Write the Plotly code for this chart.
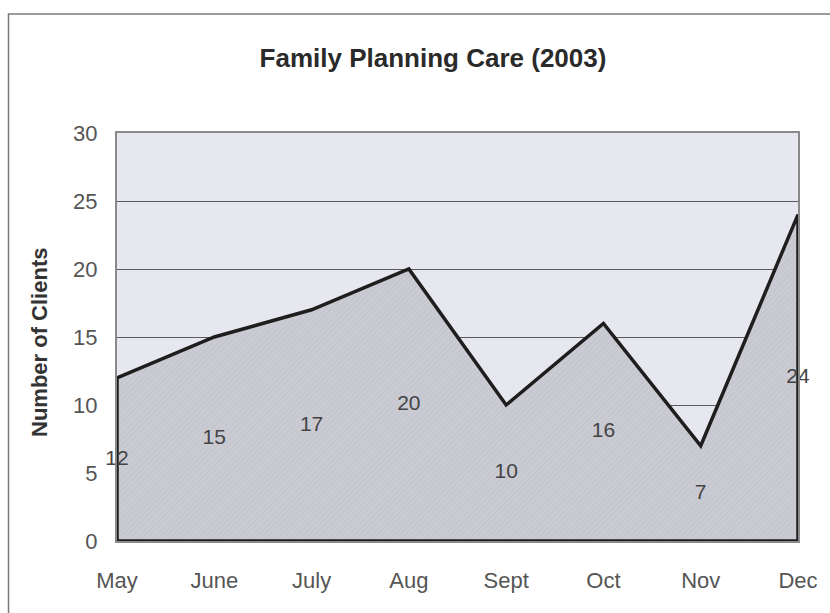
import plotly.graph_objects as go

months = ["May", "June", "July", "Aug", "Sept", "Oct", "Nov", "Dec"]
clients = [12, 15, 17, 20, 10, 16, 7, 24]
y_ticks = [0, 5, 10, 15, 20, 25, 30]

W, H = 830, 613
L, R, T, B = 117, 32, 133, 72
plot_w = W - L - R
plot_h = H - T - B

# closed outline of the filled area: data line, down to the baseline and back
poly_x = months + [months[-1], months[0], months[0]]
poly_y = clients + [0, 0, clients[0]]

fig = go.Figure()
fig.add_trace(go.Scatter(
    x=poly_x, y=poly_y, mode="lines", fill="toself",
    fillcolor="#c9c9d3",
    fillpattern=dict(shape="/", size=4, solidity=0.25,
                     fgcolor="#b9b9c3", bgcolor="#cbcbd4"),
    line=dict(color="#1e1e1e", width=3.5),
    hoverinfo="skip", showlegend=False,
))

# value labels sit halfway up each column of the area
fig.add_trace(go.Scatter(
    x=months, y=[v / 2 for v in clients], mode="text",
    text=[str(v) for v in clients],
    textfont=dict(family="Liberation Sans, Arial", size=21, color="#444444"),
    cliponaxis=False,
    hoverinfo="skip", showlegend=False,
))

font_family = "Liberation Sans, Arial, sans-serif"

fig.update_layout(
    width=W, height=H,
    margin=dict(l=L, r=R, t=T, b=B),
    paper_bgcolor="white",
    plot_bgcolor="#e7e7ef",
    title=dict(
        text="<b>Family Planning Care (2003)</b>",
        font=dict(family=font_family, size=26, color="#2a2a2a"),
        xref="container", yref="container",
        x=433 / W, y=1 - 58 / H, xanchor="center", yanchor="middle",
    ),
    xaxis=dict(
        type="category", range=[0, len(months) - 1],
        showgrid=False, zeroline=False,
        showline=True, linecolor="#8a8a8a", linewidth=2, mirror=True,
        ticks="outside", ticklen=19, tickcolor="rgba(0,0,0,0)",
        tickfont=dict(family=font_family, size=22, color="#555555"),
    ),
    yaxis=dict(
        range=[0, 30], tickvals=y_ticks,
        showgrid=True, gridcolor="#5a5a5a", gridwidth=1,
        zeroline=False,
        showline=True, linecolor="#8a8a8a", linewidth=2, mirror=True,
        ticks="outside", ticklen=13, tickcolor="rgba(0,0,0,0)",
        tickfont=dict(family=font_family, size=22, color="#555555"),
    ),
    annotations=[dict(
        text="<b>Number of Clients</b>", textangle=-90,
        xref="paper", yref="paper",
        x=(39 - L) / plot_w, y=(H - B - 343) / plot_h,
        xanchor="center", yanchor="middle", showarrow=False,
        font=dict(family=font_family, size=22, color="#333333"),
    )],
    shapes=[dict(
        type="rect", xref="paper", yref="paper", layer="below",
        x0=(8.5 - L) / plot_w, x1=(W + 10 - L) / plot_w,
        y0=-(B + 10) / plot_h, y1=(H - B - 14) / plot_h,
        line=dict(color="#7a7a7a", width=1.5), fillcolor="rgba(0,0,0,0)",
    )],
)

fig.write_html("out.html")
